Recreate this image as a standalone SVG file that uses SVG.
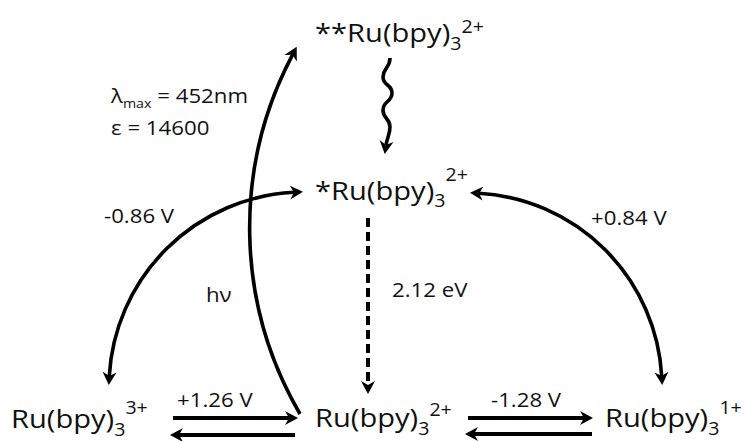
<svg xmlns="http://www.w3.org/2000/svg" width="749" height="441" viewBox="0 0 749 441">
<style>
text{font-family:"Open Sans","Liberation Sans",sans-serif;fill:#111}
.big{font-size:26px}
.sm{font-size:17.5px}
.lab{font-size:19.5px}
.ln{fill:none;stroke:#000;stroke-width:4}
.cv{fill:none;stroke:#000;stroke-width:3.6}
</style>
<defs>
<marker id="ah" markerUnits="userSpaceOnUse" markerWidth="14" markerHeight="16" viewBox="0 -8 14 16" refX="4" refY="0" orient="auto-start-reverse">
<path d="M13,0 L0,-7 L4,0 L0,7 Z" fill="#000"/>
</marker>
</defs>
<g id="connectors">
<path class="cv" d="M390,58 C390,68 383,68 383,77 C383,86 392,84 392,93 C392,102 383,101 383,110 C383,119 390,118 390,127 C390,134 387,138 386,145" marker-end="url(#ah)"/>
<path class="ln" d="M368,218 V385" stroke-dasharray="9 5" marker-end="url(#ah)"/>
<path class="cv" d="M109.3,376 A195,195 0 0 1 294,192.3" marker-start="url(#ah)" marker-end="url(#ah)"/>
<path class="cv" d="M479,193.3 A194,194 0 0 1 661.7,376" marker-start="url(#ah)" marker-end="url(#ah)"/>
<path class="cv" d="M300,414 A370,370 0 0 1 292.5,54.8" marker-end="url(#ah)"/>
<path class="ln" d="M173,418 H289" marker-end="url(#ah)"/>
<path class="ln" d="M295,435 H179" marker-end="url(#ah)"/>
<path class="ln" d="M468,418 H584" marker-end="url(#ah)"/>
<path class="ln" d="M592,434 H474" marker-end="url(#ah)"/>
<text class="lab" transform="translate(177,407) scale(1.14,1)">+1.26 V</text>
<text class="lab" transform="translate(491,407) scale(1.14,1)">-1.28 V</text>
<text class="lab" transform="translate(104,223) scale(1.14,1)">-0.86 V</text>
<text class="lab" transform="translate(591,225) scale(1.14,1)">+0.84 V</text>
<text class="lab" transform="translate(392,297) scale(1.14,1)">2.12 eV</text>
<text class="lab" transform="translate(206,302) scale(1.14,1)">hν</text>
<text class="lab" transform="translate(111,103) scale(1.14,1)">λ<tspan font-size="12.5" dy="5">max</tspan><tspan dy="-5"> = 452nm</tspan></text>
<text class="lab" transform="translate(111,135) scale(1.14,1)">ε = 14600</text>
</g>
<g id="node-doubly-excited">
<text class="big" transform="translate(315,42) scale(1.12,1)">**Ru(bpy)<tspan class="sm" dy="8">3</tspan><tspan class="sm" dy="-17">2+</tspan></text>
</g>
<g id="node-excited">
<text class="big" transform="translate(315,200) scale(1.12,1)">*Ru(bpy)<tspan class="sm" dy="7">3</tspan><tspan class="sm" dy="-26">2+</tspan></text>
</g>
<g id="node-oxidized">
<text class="big" transform="translate(11,428) scale(1.12,1)">Ru(bpy)<tspan class="sm" dy="8">3</tspan><tspan class="sm" dy="-22">3+</tspan></text>
</g>
<g id="node-ground">
<text class="big" transform="translate(315,427) scale(1.12,1)">Ru(bpy)<tspan class="sm" dy="8">3</tspan><tspan class="sm" dy="-19">2+</tspan></text>
</g>
<g id="node-reduced">
<text class="big" transform="translate(605,427) scale(1.12,1)">Ru(bpy)<tspan class="sm" dy="8">3</tspan><tspan class="sm" dy="-21">1+</tspan></text>
</g>
</svg>
